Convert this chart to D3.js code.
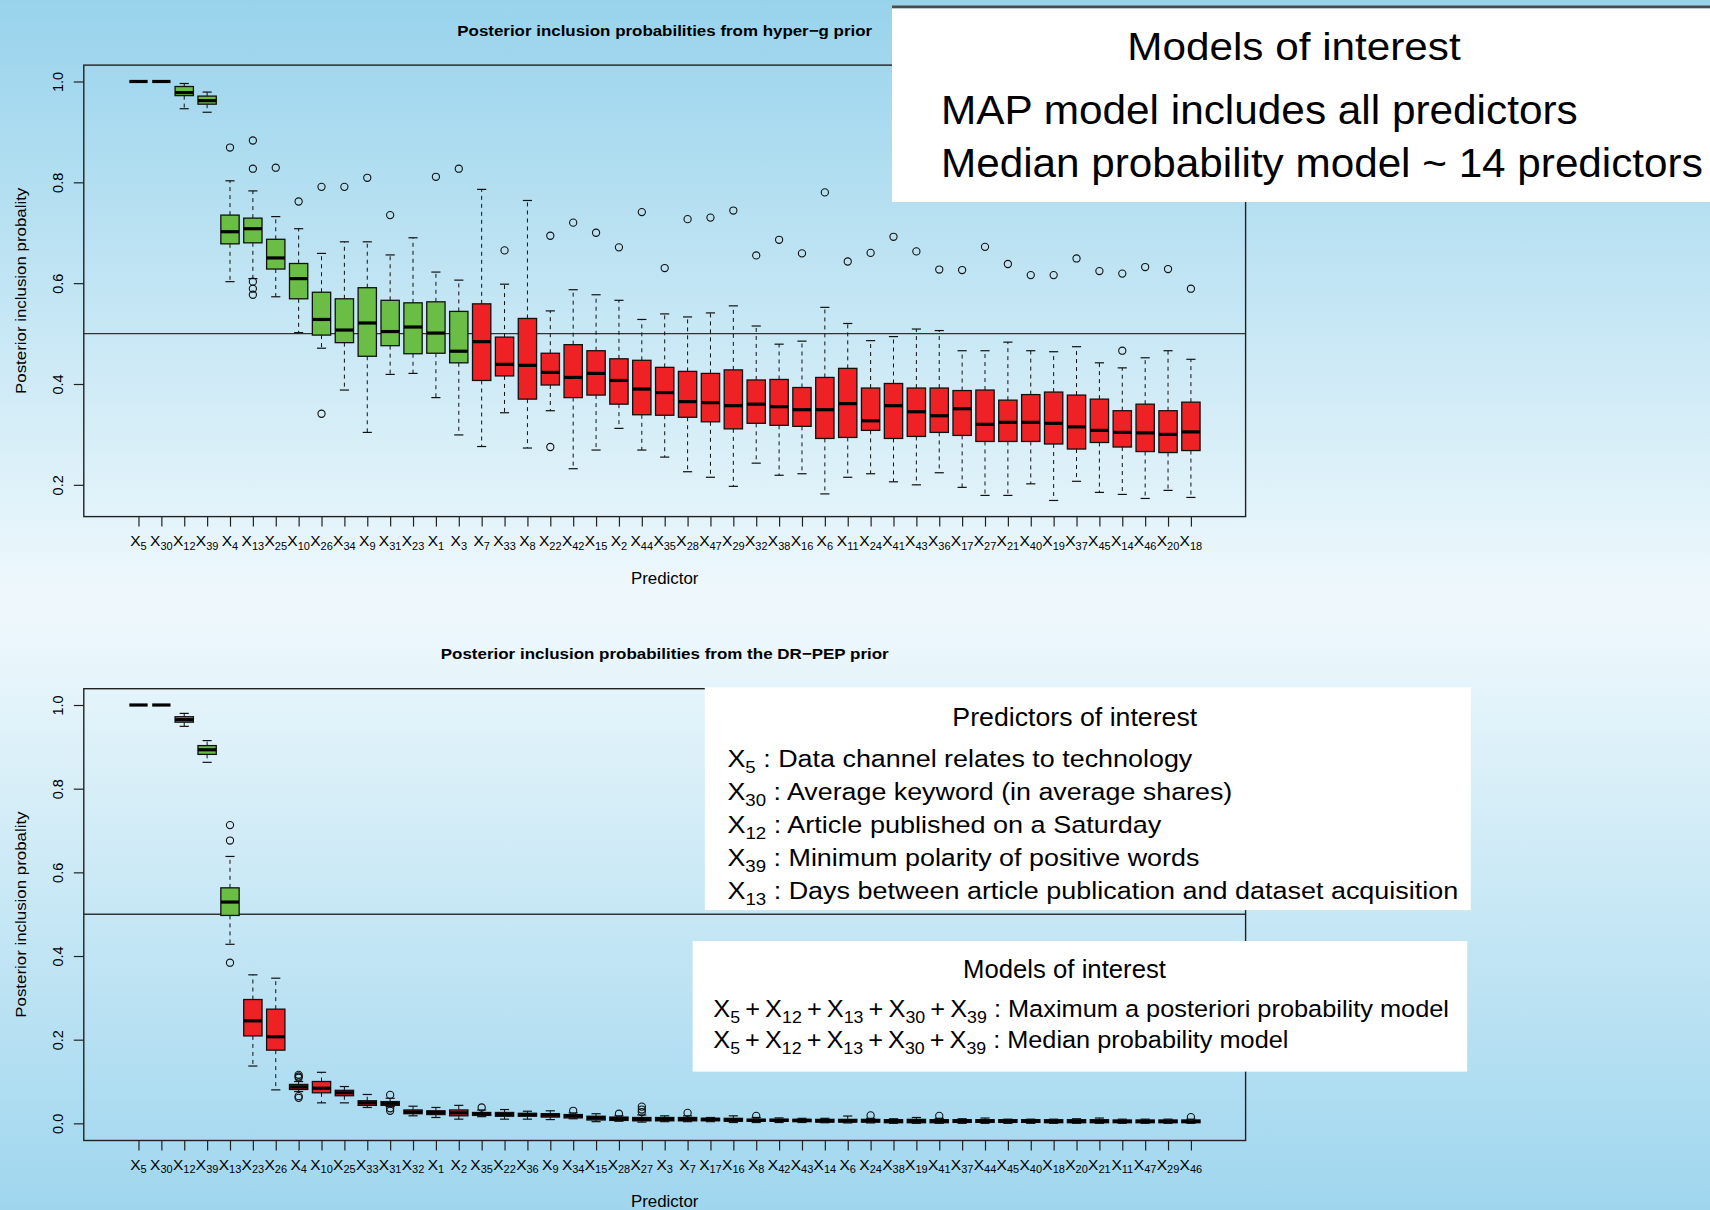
<!DOCTYPE html>
<html><head><meta charset="utf-8">
<script src="https://cdn.jsdelivr.net/npm/d3@7"></script>
<style>
body{margin:0;background:#fff;}
svg{display:block;}
text{font-family:"Liberation Sans",Arial,Helvetica,sans-serif;fill:#000;}
</style>
</head><body>
<svg id="c" width="1710" height="1210"></svg>
<script>
// ---------- DATA: hyper-g prior (top) ----------
const topLabels = ["5","30","12","39","4","13","25","10","26","34","9","31","23","1","3","7","33","8","22","42","15","2","44","35","28","47","29","32","38","16","6","11","24","41","43","36","17","27","21","40","19","37","45","14","46","20","18"];
const topGreenCount = 15;
const topLow  = [1,1,0.946,0.939,0.603,0.609,0.573,0.502,0.471,0.388,0.304,0.419,0.421,0.373,0.299,0.276,0.343,0.273,0.347,0.232,0.269,0.312,0.269,0.255,0.226,0.215,0.197,0.243,0.219,0.222,0.182,0.215,0.222,0.206,0.200,0.224,0.195,0.179,0.179,0.202,0.169,0.207,0.185,0.181,0.173,0.189,0.175];
const topQ1   = [1,1,0.972,0.955,0.678,0.680,0.628,0.569,0.497,0.482,0.455,0.476,0.460,0.461,0.442,0.407,0.416,0.370,0.398,0.373,0.378,0.360,0.339,0.338,0.334,0.325,0.311,0.322,0.318,0.316,0.292,0.294,0.308,0.292,0.296,0.304,0.298,0.286,0.286,0.286,0.281,0.271,0.284,0.275,0.266,0.264,0.268];
const topMed  = [1,1,0.978,0.962,0.702,0.708,0.650,0.609,0.528,0.507,0.521,0.504,0.513,0.501,0.465,0.484,0.439,0.437,0.423,0.413,0.421,0.407,0.390,0.383,0.365,0.363,0.357,0.360,0.355,0.349,0.349,0.361,0.327,0.357,0.345,0.337,0.351,0.320,0.324,0.324,0.322,0.315,0.308,0.304,0.303,0.300,0.305];
const topQ3   = [1,1,0.990,0.971,0.735,0.729,0.687,0.639,0.582,0.569,0.591,0.566,0.561,0.563,0.544,0.559,0.493,0.530,0.461,0.478,0.466,0.450,0.447,0.433,0.425,0.421,0.428,0.408,0.409,0.393,0.413,0.431,0.392,0.401,0.392,0.392,0.387,0.388,0.368,0.379,0.384,0.378,0.370,0.347,0.360,0.347,0.364];
const topHigh = [1,1,0.996,0.979,0.803,0.783,0.732,0.708,0.659,0.682,0.682,0.656,0.690,0.622,0.606,0.786,0.598,0.764,0.545,0.587,0.577,0.566,0.528,0.539,0.533,0.541,0.555,0.515,0.479,0.485,0.552,0.520,0.486,0.494,0.509,0.506,0.466,0.466,0.483,0.466,0.464,0.474,0.442,0.432,0.452,0.466,0.449];
const topOutliers = [[],[],[],[],[0.869],[0.883,0.827,0.603,0.589,0.577],[0.829],[0.762],[0.791,0.341],[0.791],[0.809],[0.735],[],[0.811],[0.827],[],[0.665],[],[0.694,0.275],[0.720],[0.700],[0.671],[0.741],[0.630],[0.727],[0.730],[0.744],[0.655],[0.686],[0.659],[0.780],[0.643],[0.660],[0.692],[0.663],[0.627],[0.626],[0.672],[0.638],[0.616],[0.616],[0.649],[0.624],[0.619,0.466],[0.632],[0.628],[0.589]];
const topTicks = [0.2,0.4,0.6,0.8,1.0];

// ---------- DATA: DR-PEP prior (bottom) ----------
const botLabels = ["5","30","12","39","13","23","26","4","10","25","33","31","32","1","2","35","22","36","9","34","15","28","27","3","7","17","16","8","42","43","14","6","24","38","19","41","37","44","45","40","18","20","21","11","47","29","46"];
const botGreenCount = 5;
const botLow  = [1,1,0.949,0.863,0.428,0.137,0.080,0.076,0.049,0.049,0.038,0.040,0.018,0.014,0.010,0.016,0.010,0.010,0.009,0.011,0.004,0.005,0.003,0.004,0.004,0.004,0.002,0.002,0.002,0.002,0.0015,0.001,0.001,0,0,0,0,0,0,0,0,0,0,0,0,0,0];
const botQ1   = [1,1,0.959,0.882,0.497,0.209,0.175,0.081,0.073,0.066,0.043,0.043,0.023,0.021,0.018,0.019,0.017,0.017,0.015,0.013,0.008,0.007,0.006,0.006,0.006,0.006,0.005,0.005,0.005,0.004,0.003,0.003,0.003,0.0015,0.0015,0.0015,0.0023,0.0023,0.0023,0.0023,0.0015,0.0015,0.0015,0.0015,0.0015,0.0015,0.0015];
const botMed  = [1,1,0.965,0.893,0.529,0.245,0.207,0.087,0.084,0.073,0.049,0.048,0.027,0.026,0.025,0.023,0.021,0.021,0.020,0.018,0.013,0.011,0.010,0.010,0.010,0.0095,0.008,0.007,0.007,0.007,0.006,0.006,0.006,0.0055,0.0055,0.0055,0.0055,0.0055,0.0055,0.0055,0.0047,0.0047,0.0047,0.0047,0.0047,0.0047,0.0047];
const botQ3   = [1,1,0.972,0.903,0.563,0.296,0.273,0.093,0.100,0.079,0.054,0.052,0.032,0.030,0.032,0.026,0.026,0.024,0.023,0.021,0.017,0.015,0.014,0.014,0.014,0.012,0.012,0.010,0.010,0.0095,0.0095,0.0095,0.0095,0.0087,0.0095,0.0087,0.0087,0.0087,0.0087,0.0087,0.0087,0.0087,0.0087,0.0079,0.0079,0.0079,0.0079];
const botHigh = [1,1,0.980,0.915,0.638,0.355,0.347,0.100,0.122,0.088,0.069,0.060,0.041,0.038,0.043,0.032,0.033,0.029,0.030,0.025,0.023,0.018,0.020,0.018,0.018,0.014,0.018,0.014,0.013,0.012,0.012,0.0175,0.012,0.011,0.014,0.012,0.011,0.0127,0.010,0.010,0.010,0.011,0.0127,0.010,0.010,0.010,0.010];
const botOutliers = [[],[],[],[],[0.713,0.676,0.384],[],[],[0.116,0.112,0.109,0.065,0.061],[],[],[],[0.068,0.036,0.030],[],[],[],[0.038],[],[],[],[0.030],[],[0.023],[0.040,0.033,0.027],[],[0.025],[],[],[0.018],[],[],[],[],[0.019],[],[],[0.018],[],[],[],[],[],[],[],[],[],[],[0.015]];
const botTicks = [0.0,0.2,0.4,0.6,0.8,1.0];

// ---------- overlay texts ----------
const topNoteTitle = "Models of interest";
const topNoteLines = ["MAP model includes all predictors","Median probability model ~ 14 predictors"];
const predTitle = "Predictors of interest";
const predNotes = [["5","Data channel relates to technology"],["30","Average keyword (in average shares)"],["12","Article published on a Saturday"],["39","Minimum polarity of positive words"],["13","Days between article publication and dataset acquisition"]];
const modelTitle = "Models of interest";
const modelTerms = ["5","12","13","30","39"];
const modelNames = ["Maximum a posteriori probability model","Median probability model"];

// ---------- drawing ----------
const svg = d3.select("#c");
const defs = svg.append("defs");
const grad = defs.append("linearGradient").attr("id","bg").attr("x1",0).attr("y1",0).attr("x2",0).attr("y2",1);
[[0,"#98d3ec"],[0.49,"#eef8fc"],[0.51,"#eef8fc"],[1,"#9fd6ee"]].forEach(s=>grad.append("stop").attr("offset",s[0]).attr("stop-color",s[1]));
svg.append("rect").attr("width",1710).attr("height",1210).attr("fill","url(#bg)");

const GREEN = "#6abe45", RED = "#ee2224";
const x = d3.scaleLinear().domain([-1.39,49.39]).range([83.8,1245.6]);

function fitText(t, target){
  const w = t.node().getBBox().width;
  const tr = t.attr("transform") || "";
  t.attr("transform", tr + ` scale(${target/w},1)`);
}

function panel(cfg){
  const g = svg.append("g");
  const y = d3.scaleLinear().domain(cfg.ydom).range([cfg.y1, cfg.y0]);
  const x0 = x.range()[0], x1 = x.range()[1];
  g.append("line").attr("x1",x0).attr("x2",x1).attr("y1",y(0.5)).attr("y2",y(0.5))
    .attr("stroke","#333").attr("stroke-width",1.4);
  const n = cfg.labels.length;
  const bw = x(1.4) - x(1);
  for(let i=0;i<n;i++){
    const cx = x(i+1);
    const col = i < cfg.green ? GREEN : RED;
    const bg = g.append("g");
    bg.append("line").attr("x1",cx).attr("x2",cx).attr("y1",y(cfg.q3[i])).attr("y2",y(cfg.high[i]))
      .attr("stroke","#111").attr("stroke-width",1).attr("stroke-dasharray","4,4");
    bg.append("line").attr("x1",cx).attr("x2",cx).attr("y1",y(cfg.q1[i])).attr("y2",y(cfg.low[i]))
      .attr("stroke","#111").attr("stroke-width",1).attr("stroke-dasharray","4,4");
    [cfg.high[i], cfg.low[i]].forEach(v=>{
      bg.append("line").attr("x1",cx-bw/2).attr("x2",cx+bw/2).attr("y1",y(v)).attr("y2",y(v))
        .attr("stroke","#111").attr("stroke-width",1.2);
    });
    bg.append("rect").attr("x",cx-bw).attr("width",2*bw).attr("y",y(cfg.q3[i]))
      .attr("height",Math.max(0,y(cfg.q1[i])-y(cfg.q3[i])))
      .attr("fill",col).attr("stroke","#111").attr("stroke-width",1.3);
    bg.append("line").attr("x1",cx-bw).attr("x2",cx+bw).attr("y1",y(cfg.med[i])).attr("y2",y(cfg.med[i]))
      .attr("stroke","#000").attr("stroke-width",3.2);
    cfg.out[i].forEach(v=>{
      bg.append("circle").attr("cx",cx).attr("cy",y(v)).attr("r",3.6)
        .attr("fill","none").attr("stroke","#111").attr("stroke-width",1.1);
    });
  }
  g.append("rect").attr("x",x0).attr("y",cfg.y0).attr("width",x1-x0).attr("height",cfg.y1-cfg.y0)
    .attr("fill","none").attr("stroke","#222").attr("stroke-width",1.4);
  const ya = g.append("g").attr("transform",`translate(${x0},0)`)
    .call(d3.axisLeft(y).tickValues(cfg.ticks).tickSize(10).tickSizeOuter(0).tickFormat(d3.format(".1f")));
  ya.select(".domain").remove();
  ya.selectAll(".tick line").attr("stroke","#222").attr("stroke-width",1.2);
  ya.selectAll(".tick text").attr("x",null).attr("dy",null)
    .attr("transform","translate(-20.5,0) rotate(-90)").attr("text-anchor","middle")
    .attr("font-size",14.5).attr("fill","#000").style("font-family",'"Liberation Sans",Arial,sans-serif');
  const xa = g.append("g").attr("transform",`translate(0,${cfg.y1})`)
    .call(d3.axisBottom(x).tickValues(d3.range(1,n+1)).tickSize(10).tickSizeOuter(0).tickFormat(""));
  xa.select(".domain").remove();
  xa.selectAll(".tick line").attr("stroke","#222").attr("stroke-width",1.2);
  cfg.labels.forEach((lab,i)=>{
    const t = g.append("text").attr("transform",`translate(${x(i+1)},${cfg.tickBase})`)
      .attr("text-anchor","middle").attr("font-size",15.5);
    t.append("tspan").text("X");
    t.append("tspan").text(lab).attr("font-size",11).attr("dy",3.5);
  });
  const tt = g.append("text").attr("transform",`translate(${(x0+x1)/2},${cfg.titleBase})`)
    .attr("text-anchor","middle").attr("font-size",15.5).attr("font-weight","bold").text(cfg.title);
  fitText(tt, cfg.titleW);
  const xl = g.append("text").attr("transform",`translate(${(x0+x1)/2},${cfg.xlabBase})`)
    .attr("text-anchor","middle").attr("font-size",17).text("Predictor");
  fitText(xl, 68);
  const yl = g.append("text").attr("transform",`translate(26,${(cfg.y0+cfg.y1)/2}) rotate(-90)`)
    .attr("text-anchor","middle").attr("font-size",15).text("Posterior inclusion probality");
  fitText(yl, 207);
}

panel({labels:topLabels, green:topGreenCount, low:topLow, q1:topQ1, med:topMed, q3:topQ3, high:topHigh, out:topOutliers,
  ticks:topTicks, ydom:[0.137,1.0325], y0:65.1, y1:516.6, tickBase:546, titleBase:35.6, titleW:415, xlabBase:584.4,
  title:"Posterior inclusion probabilities from hyper\u2212g prior"});
panel({labels:botLabels, green:botGreenCount, low:botLow, q1:botQ1, med:botMed, q3:botQ3, high:botHigh, out:botOutliers,
  ticks:botTicks, ydom:[-0.041,1.039], y0:688.7, y1:1140.5, tickBase:1169.5, titleBase:659, titleW:448, xlabBase:1207,
  title:"Posterior inclusion probabilities from the DR\u2212PEP prior"});

// ---------- overlay notes ----------
const ov = svg.append("g");
ov.append("rect").attr("x",892).attr("y",5.5).attr("width",818).attr("height",3).attr("fill","#4d4d4d");
ov.append("rect").attr("x",892).attr("y",8.5).attr("width",818).attr("height",193.5).attr("fill","#fff");
let t = ov.append("text").attr("transform","translate(1294,60)").attr("text-anchor","middle").attr("font-size",38).text(topNoteTitle);
fitText(t,334);
[[124.4,637],[176.5,762]].forEach((p,i)=>{
  const tl = ov.append("text").attr("transform",`translate(941,${p[0]})`).attr("font-size",40).text(topNoteLines[i]);
  fitText(tl,p[1]);
});

ov.append("rect").attr("x",704.8).attr("y",687.5).attr("width",766).attr("height",222.6).attr("fill","#fff");
t = ov.append("text").attr("transform","translate(1074.8,725.5)").attr("text-anchor","middle").attr("font-size",25).text(predTitle);
fitText(t,245);
const predBase = [766.5,799.6,832.7,865.8,898.8], predW = [466,505,435,472,731];
predNotes.forEach((p,i)=>{
  const tl = ov.append("text").attr("transform",`translate(727.4,${predBase[i]})`).attr("font-size",24.5);
  tl.append("tspan").text("X");
  tl.append("tspan").text(p[0]).attr("font-size",17).attr("dy",6);
  tl.append("tspan").text(" : "+p[1]).attr("dy",-6);
  fitText(tl,predW[i]);
});

ov.append("rect").attr("x",692.7).attr("y",941).attr("width",774.5).attr("height",130.6).attr("fill","#fff");
t = ov.append("text").attr("transform","translate(1064.5,978)").attr("text-anchor","middle").attr("font-size",25).text(modelTitle);
fitText(t,203);
[[1017,736],[1048.2,575.5]].forEach((p,i)=>{
  const tl = ov.append("text").attr("transform",`translate(713.3,${p[0]})`).attr("font-size",23.5);
  modelTerms.forEach((m,j)=>{
    if(j>0) tl.append("tspan").text("\u2009+\u2009").attr("dy",-6);
    tl.append("tspan").text("X");
    tl.append("tspan").text(m).attr("font-size",16.5).attr("dy",6);
  });
  tl.append("tspan").text(" : "+modelNames[i]).attr("dy",-6);
  fitText(tl,p[1]);
});
</script>
</body></html>
